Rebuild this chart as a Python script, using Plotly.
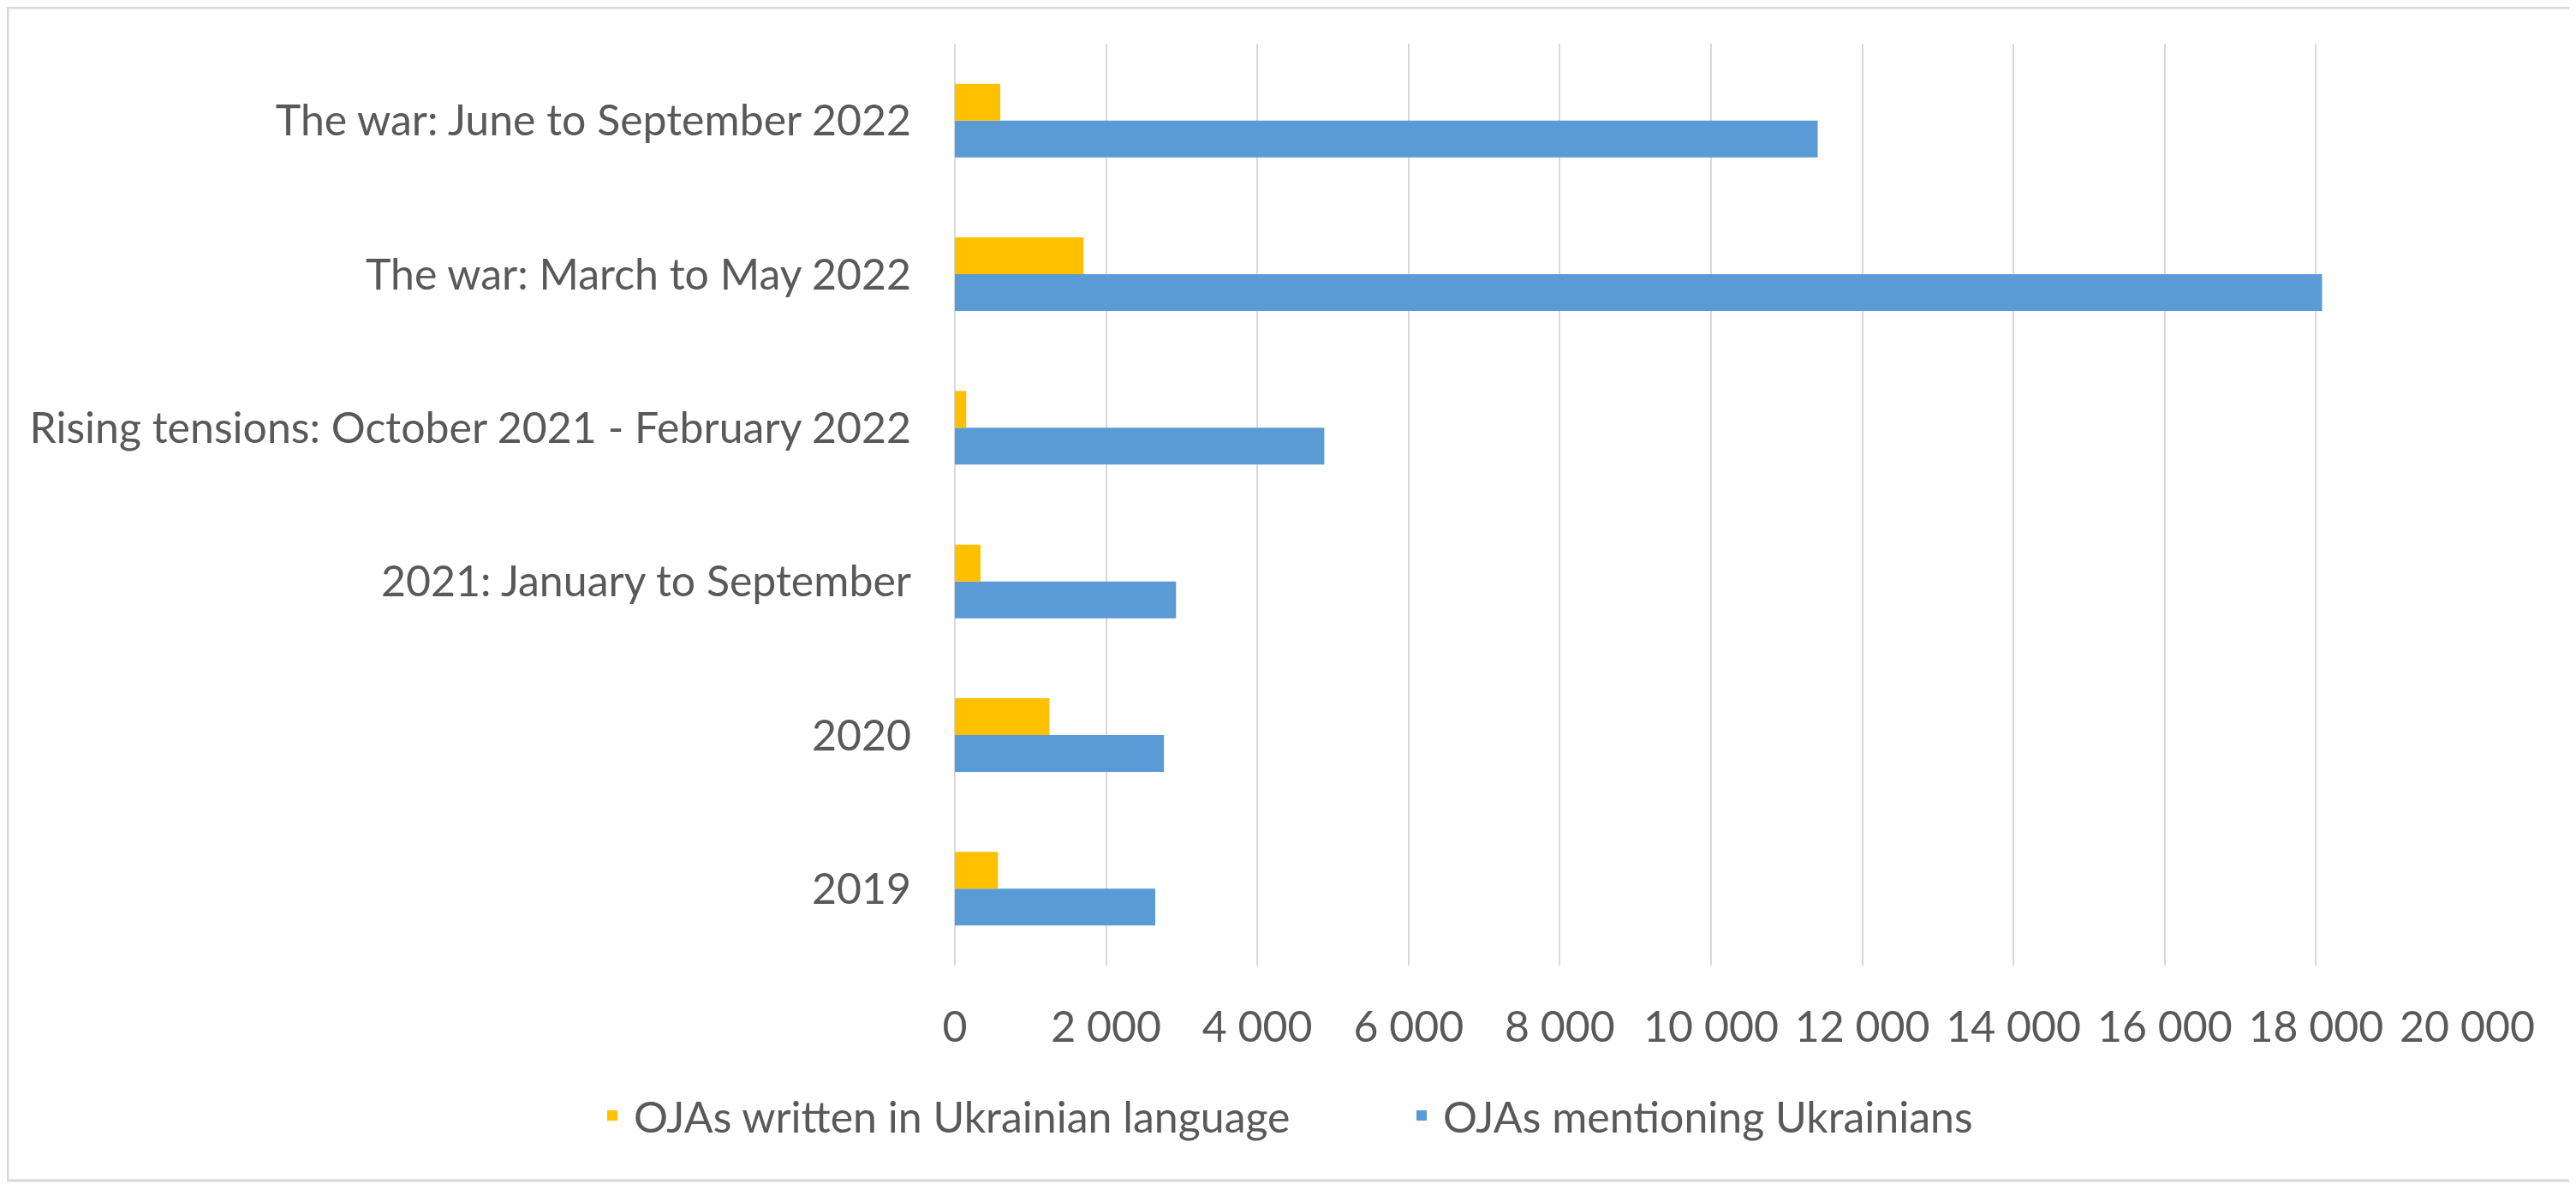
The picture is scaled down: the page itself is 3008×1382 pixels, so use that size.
import plotly.graph_objects as go

categories = [
    "2019",
    "2020",
    "2021: January to September",
    "Rising tensions: October 2021 - February 2022",
    "The war: March to May 2022",
    "The war: June to September 2022",
]
written_ukrainian = [570, 1250, 340, 150, 1700, 600]
mentioning_ukrainians = [2650, 2765, 2925, 4885, 18080, 11410]
x_ticks = list(range(0, 20001, 2000))

# page has an 8px body margin, so the figure is a bit smaller than the window
W, H = 3000, 1374
L, R, T, B = 1107, 127, 43, 255
pw, ph = W - L - R, H - T - B

grey_text = "#595959"
grid = "#d9d9d9"

fig = go.Figure()
# blue goes in first so it sits below the yellow one in each group
fig.add_trace(go.Bar(y=categories, x=mentioning_ukrainians, orientation="h",
                     name="OJAs mentioning Ukrainians", marker_color="#5B9BD5",
                     marker_line_width=0, legendrank=2))
fig.add_trace(go.Bar(y=categories, x=written_ukrainian, orientation="h",
                     name="OJAs written in Ukrainian language", marker_color="#FFC000",
                     marker_line_width=0, legendrank=1))

fig.update_layout(
    width=W, height=H,
    margin=dict(l=L, r=R, t=T, b=B, autoexpand=False),
    paper_bgcolor="white", plot_bgcolor="white",
    font=dict(family="Lato", size=50, color=grey_text),
    barmode="group", bargap=0.52, bargroupgap=0,
    separators=". ",
    # left anchored outside the plot so the legend can use the full width
    legend=dict(orientation="h", x=(690 - 8 - L) / pw, xanchor="left",
                y=(T + ph - 1294) / ph, yanchor="middle",
                font=dict(size=50, color=grey_text), itemwidth=40,
                entrywidth=890),
    showlegend=True,
)
fig.update_xaxes(range=[0, 20000], tickvals=x_ticks, tickformat=",d",
                 showgrid=True, gridcolor=grid, gridwidth=2,
                 zeroline=True, zerolinecolor=grid, zerolinewidth=2,
                 showline=False, ticks="", ticklabelstandoff=38, fixedrange=True)
fig.update_yaxes(categoryorder="array", categoryarray=categories,
                 showgrid=False, showline=False, zeroline=False,
                 ticks="", ticklabelstandoff=50, fixedrange=True)

# thin frame round the whole chart
fig.add_shape(type="rect", xref="paper", yref="paper",
              x0=(1 - L) / pw, x1=(W - 4 - L) / pw,
              y0=(T + ph - (H - 4)) / ph, y1=(T + ph - 1) / ph,
              line=dict(color=grid, width=3), layer="below")

fig.write_html("out.html")
